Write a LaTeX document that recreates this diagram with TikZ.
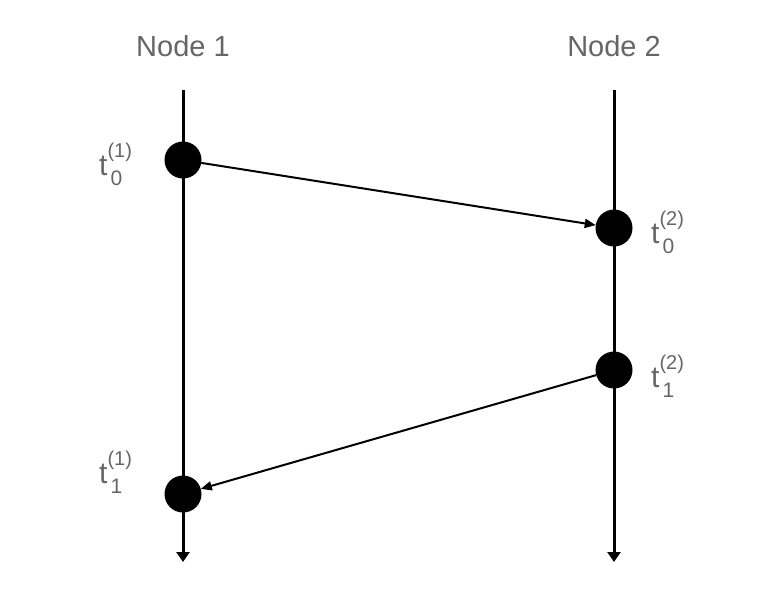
\documentclass[tikz,border=0pt]{standalone}
\usepackage{fontspec}
\setmainfont{Liberation Sans}
\usetikzlibrary{arrows.meta}
\definecolor{labgray}{HTML}{666666}
\newcommand{\tlab}[2]{t\rlap{\raisebox{18pt}{\fontsize{20}{20}\selectfont(#2)}}\raisebox{-10pt}{\hspace{3pt}\fontsize{21}{21}\selectfont#1}}
\tikzset{
  dot/.style={circle,fill=black,minimum size=37pt,inner sep=0pt,outer sep=0pt},
  timeline/.style={line width=3pt,-{Triangle[length=10pt,width=13pt]}},
  msg/.style={line width=2pt,-{Triangle[length=11pt,width=9pt]}},
  head/.style={text=labgray,font=\fontsize{29}{29}\selectfont,inner sep=0pt},
  tl/.style={text=labgray,font=\fontsize{30}{30}\selectfont,inner sep=0pt,anchor=base west},
}
\begin{document}
\begin{tikzpicture}[x=1pt,y=-1pt]
\useasboundingbox[fill=white] (0,0) rectangle (776,590);
\node[head] (n1) at (183,46) {Node 1};
\node[head] (n2) at (614,46) {Node 2};
\coordinate (top1) at (183,90);
\coordinate (bot1) at (183,562);
\coordinate (top2) at (614,90);
\coordinate (bot2) at (614,562);
\draw[timeline] (top1) -- (bot1);
\draw[timeline] (top2) -- (bot2);
\node[dot] (a0) at (183,160) {};
\node[dot] (b0) at (614,228) {};
\node[dot] (b1) at (614,370) {};
\node[dot] (a1) at (183,494) {};
\draw[msg] (a0) -- (b0);
\draw[msg] (b1) -- (a1);
\node[tl] (la0) at (99,175) {\tlab{0}{1}};
\node[tl] (la1) at (99,483) {\tlab{1}{1}};
\node[tl] (lb0) at (651,243) {\tlab{0}{2}};
\node[tl] (lb1) at (651,387) {\tlab{1}{2}};
\end{tikzpicture}
\end{document}
